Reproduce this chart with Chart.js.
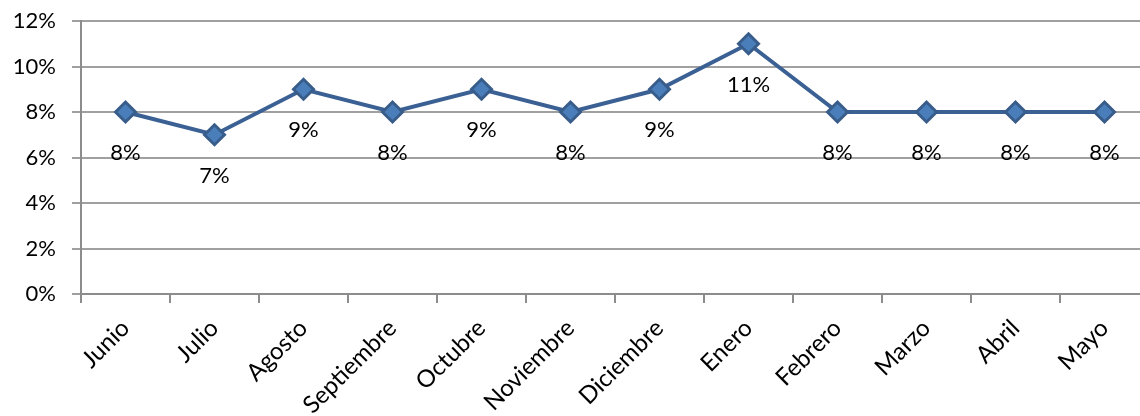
<!DOCTYPE html>
<html>
<head>
<meta charset="utf-8">
<script src="https://cdn.jsdelivr.net/npm/chart.js@4/dist/chart.umd.min.js"></script>
<style>
  html, body { margin: 0; padding: 0; background: #fff; overflow: hidden; }
  #wrap { width: 1162px; height: 416px; }
</style>
</head>
<body>
<div id="wrap"><canvas id="chart" width="1162" height="416"></canvas></div>
<script>
const months = ['Junio', 'Julio', 'Agosto', 'Septiembre', 'Octubre', 'Noviembre',
  'Diciembre', 'Enero', 'Febrero', 'Marzo', 'Abril', 'Mayo'];
const rates = [8, 7, 9, 8, 9, 8, 9, 11, 8, 8, 8, 8];
const yTicks = [0, 2, 4, 6, 8, 10, 12];

const FONT = 'Lato, "Open Sans", sans-serif';

// labels below each point, like the original data labels
const pointLabels = {
  id: 'pointLabels',
  afterDatasetsDraw(chart) {
    const ctx = chart.ctx;
    const meta = chart.getDatasetMeta(0);
    ctx.save();
    ctx.font = '22px ' + FONT;
    ctx.fillStyle = '#000';
    ctx.textAlign = 'center';
    ctx.textBaseline = 'middle';
    meta.data.forEach((pt, i) => {
      ctx.fillText(rates[i] + '%', pt.x, pt.y + 41);
    });
    ctx.restore();
  }
};

chart = new Chart(document.getElementById('chart'), {
  type: 'line',
  data: {
    labels: months,
    datasets: [{
      data: rates,
      borderColor: '#3a6094',
      borderWidth: 4,
      pointStyle: 'rectRot',
      pointRadius: 10,
      pointHoverRadius: 10,
      pointBackgroundColor: '#4a7ebb',
      pointBorderColor: '#385d8a',
      pointBorderWidth: 3,
      tension: 0
    }]
  },
  options: {
    responsive: false,
    animation: false,
    layout: { padding: { top: 21, right: 2, left: 0, bottom: 0 } },
    plugins: {
      legend: { display: false },
      tooltip: { enabled: false }
    },
    scales: {
      y: {
        min: 0,
        max: 12,
        afterBuildTicks: s => { s.ticks = yTicks.map(v => ({ value: v })); },
        afterFit: s => { s.width = 81; s.paddingTop = 0; s.paddingBottom = 0; },
        ticks: {
          color: '#000',
          font: { family: FONT, size: 22 },
          padding: 16,
          callback: v => v + '%'
        },
        grid: { color: '#a0a0a0', lineWidth: 2, tickLength: 9 },
        border: { color: '#8c8c8c', width: 2 }
      },
      x: {
        offset: true,
        afterFit: s => { s.height = 122; s.paddingTop = 0; },
        ticks: {
          color: '#000',
          font: { family: FONT, size: 24 },
          maxRotation: 45,
          minRotation: 45,
          padding: 11,
          autoSkip: false
        },
        grid: { offset: true, drawOnChartArea: false, color: '#8c8c8c', lineWidth: 2, tickLength: 9 },
        border: { color: '#8c8c8c', width: 2 }
      }
    }
  },
  plugins: [pointLabels]
});
</script>
</body>
</html>
